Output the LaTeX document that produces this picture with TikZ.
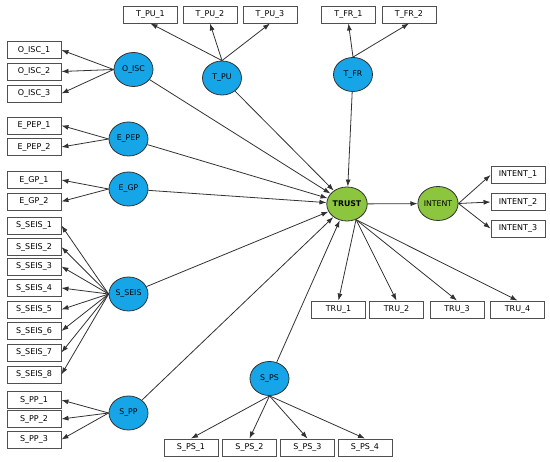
\documentclass[tikz,border=0pt]{standalone}
\usepackage{fontspec}
\setmainfont{DejaVu Sans}
\usetikzlibrary{shapes.geometric,arrows.meta}
\definecolor{latblue}{RGB}{22,166,232}
\definecolor{latgreen}{RGB}{140,198,63}
\definecolor{edgegray}{RGB}{50,50,50}
\definecolor{boxgray}{RGB}{80,80,80}
\tikzset{
  ind/.style={draw=boxgray, line width=0.9pt, fill=white, minimum width=54pt, minimum height=17pt, inner sep=0pt, font=\fontsize{8}{9}\selectfont},
  latb/.style={ellipse, draw=edgegray, line width=0.8pt, fill=latblue, minimum width=39pt, minimum height=34pt, inner sep=0pt, font=\fontsize{7.8}{9}\selectfont},
  latg/.style={latb, fill=latgreen, minimum width=40pt},
  arr/.style={draw=edgegray, line width=0.8pt, -{Latex[length=7pt,width=5pt]}}
}
\begin{document}
\begin{tikzpicture}[x=1pt,y=-1pt]
\useasboundingbox (0,0) rectangle (550,462);
% latent variables
\node[latb] (OISC) at (133.5,69.5) {O\_ISC};
\node[latb] (TPU) at (222,78) {T\_PU};
\node[latb] (EPEP) at (128.5,139) {E\_PEP};
\node[latb] (EGP) at (128.5,189) {E\_GP};
\node[latb] (SSEIS) at (128.5,294) {S\_SEIS};
\node[latb] (SPP) at (128.5,413) {S\_PP};
\node[latb] (TFR) at (353,74.5) {T\_FR};
\node[latb] (SPS) at (269.5,378.5) {S\_PS};
\node[latg] (TRUST) at (347,204) {\textbf{TRUST}};
\node[latg] (INTENT) at (438,203.5) {INTENT};
% left indicators
\node[ind] (oisc1) at (34,50) {O\_ISC\_1};
\node[ind] (oisc2) at (34,71.5) {O\_ISC\_2};
\node[ind] (oisc3) at (34,93.5) {O\_ISC\_3};
\node[ind] (epep1) at (34,125.5) {E\_PEP\_1};
\node[ind] (epep2) at (34,147) {E\_PEP\_2};
\node[ind] (egp1) at (34,180) {E\_GP\_1};
\node[ind] (egp2) at (34,201.5) {E\_GP\_2};
\node[ind] (sseis1) at (34,225.5) {S\_SEIS\_1};
\node[ind] (sseis2) at (34,247) {S\_SEIS\_2};
\node[ind] (sseis3) at (34,266.5) {S\_SEIS\_3};
\node[ind] (sseis4) at (34,288) {S\_SEIS\_4};
\node[ind] (sseis5) at (34,309.5) {S\_SEIS\_5};
\node[ind] (sseis6) at (34,331) {S\_SEIS\_6};
\node[ind] (sseis7) at (34,352.5) {S\_SEIS\_7};
\node[ind] (sseis8) at (34,374.5) {S\_SEIS\_8};
\node[ind] (spp1) at (34,400) {S\_PP\_1};
\node[ind] (spp2) at (34,419) {S\_PP\_2};
\node[ind] (spp3) at (34,439.5) {S\_PP\_3};
% top indicators
\node[ind] (tpu1) at (150.5,14.5) {T\_PU\_1};
\node[ind] (tpu2) at (210,14.5) {T\_PU\_2};
\node[ind] (tpu3) at (270,14.5) {T\_PU\_3};
\node[ind] (tfr1) at (348.5,14.5) {T\_FR\_1};
\node[ind] (tfr2) at (409,14.5) {T\_FR\_2};
% intent indicators
\node[ind] (int1) at (518,175) {INTENT\_1};
\node[ind] (int2) at (518,202) {INTENT\_2};
\node[ind] (int3) at (518,228.5) {INTENT\_3};
% trust indicators
\node[ind] (tru1) at (338.5,309.5) {TRU\_1};
\node[ind] (tru2) at (396.5,309.5) {TRU\_2};
\node[ind] (tru3) at (457,309.5) {TRU\_3};
\node[ind] (tru4) at (517.5,309.5) {TRU\_4};
% sps indicators
\node[ind] (sps1) at (191,447.5) {S\_PS\_1};
\node[ind] (sps2) at (249.5,447.5) {S\_PS\_2};
\node[ind] (sps3) at (307.5,447.5) {S\_PS\_3};
\node[ind] (sps4) at (365,447.5) {S\_PS\_4};
% measurement arrows
\foreach \b in {oisc1,oisc2,oisc3} \draw[arr] (OISC.west) -- (\b.east);
\foreach \b in {epep1,epep2} \draw[arr] (EPEP.west) -- (\b.east);
\foreach \b in {egp1,egp2} \draw[arr] (EGP.west) -- (\b.east);
\foreach \b in {sseis1,sseis2,sseis3,sseis4,sseis5,sseis6,sseis7,sseis8} \draw[arr] (SSEIS.west) -- (\b.east);
\foreach \b in {spp1,spp2,spp3} \draw[arr] (SPP.west) -- (\b.east);
\foreach \b in {tpu1,tpu2,tpu3} \draw[arr] (TPU.north) -- (\b.south);
\foreach \b in {tfr1,tfr2} \draw[arr] (TFR.north) -- (\b.south);
\foreach \b in {int1,int2,int3} \draw[arr] (INTENT.east) -- (\b.west);
\foreach \b in {tru1,tru2,tru3,tru4} \draw[arr] (TRUST.-60) -- (\b.north);
\foreach \b in {sps1,sps2,sps3,sps4} \draw[arr] (SPS.south) -- (\b.north);
% structural arrows
\foreach \a in {OISC,TPU,TFR,EPEP,EGP,SSEIS,SPP,SPS} \draw[arr] (\a) -- (TRUST);
\draw[arr] (TRUST) -- (INTENT);
\end{tikzpicture}
\end{document}
